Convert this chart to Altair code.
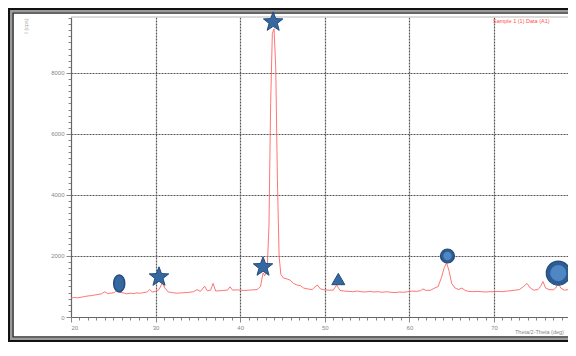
import altair as alt
import pandas as pd

# ---- data ----
two_theta = [20.0, 20.4, 20.8, 21.2, 21.6, 22.0, 22.4, 22.8, 23.2, 23.6, 24.0, 24.3, 24.7, 25.1, 25.5, 25.8,
             26.2, 26.6, 27.0, 27.4, 27.8, 28.2, 28.6, 29.0, 29.3, 29.6, 30.0, 30.4, 30.8, 31.1, 31.5, 32.0,
             32.5, 33.0, 33.5, 34.0, 34.5, 34.9, 35.3, 35.8, 36.1, 36.5, 36.8, 37.1, 37.5, 38.0, 38.5, 38.8,
             39.1, 39.6, 40.0, 40.5, 41.0, 41.5, 42.0, 42.4, 42.7, 42.9, 43.2, 43.4, 43.6, 43.8, 44.0, 44.2,
             44.4, 44.6, 44.8, 45.1, 45.5, 45.9, 46.3, 46.7, 47.1, 47.5, 48.0, 48.5, 49.1, 49.5, 50.0, 50.5,
             51.0, 51.4, 51.8, 52.3, 52.8, 53.3, 53.8, 54.3, 54.8, 55.3, 55.8, 56.3, 56.8, 57.3, 57.8, 58.3,
             58.8, 59.3, 59.8, 60.3, 60.8, 61.3, 61.6, 62.0, 62.5, 63.0, 63.4, 63.8, 64.1, 64.4, 64.7, 65.0,
             65.4, 65.8, 66.2, 66.6, 67.0, 67.5, 68.0, 68.5, 69.0, 69.5, 70.0, 70.5, 71.0, 71.5, 72.0, 72.5,
             73.0, 73.5, 73.9, 74.3, 74.7, 75.2, 75.5, 75.8, 76.1, 76.5, 77.0, 77.3, 77.6, 77.9, 78.3, 78.8,
             79.3, 79.7]
intensity = [620, 640, 630, 650, 670, 690, 700, 720, 740, 760, 830, 770, 780, 800, 900, 810,
             790, 760, 780, 770, 790, 780, 800, 820, 900, 820, 840, 900, 1120, 950, 820, 800,
             780, 790, 800, 810, 830, 900, 840, 1010, 860, 880, 1100, 850, 860, 870, 880, 990,
             880, 890, 880, 870, 880, 890, 900, 1000, 1440, 1350, 1600, 3000, 7000, 9300, 9450, 8200,
             4500, 2000, 1400, 1280, 1250, 1210, 1100, 1050, 1030, 950, 920, 900, 1050, 920, 890, 880,
             880, 1050, 870, 850, 840, 830, 850, 830, 820, 840, 820, 830, 810, 830, 810, 800,
             820, 810, 830, 850, 840, 860, 920, 870, 880, 950, 1000, 1300, 1600, 1780, 1500, 1100,
             950, 900, 950, 870, 840, 830, 840, 830, 820, 830, 830, 840, 830, 850, 860, 880,
             900, 1000, 1100, 950, 880, 900, 1000, 1160, 950, 900, 890, 950, 1100, 950, 880, 900,
             930, 900]

star_x = [30.4, 42.7, 43.9]
star_y = [1310, 1640, 9670]
oval_x = [25.7]
oval_y = [1100]
tri_x = [51.6]
tri_y = [1245]
circle_x = [64.5, 77.6]
circle_y = [2000, 1440]
circle_size = [196, 576]
circle_inner = [70, 260]

x_ticks = list(range(20, 79))
y_ticks = list(range(0, 9801, 200))
legend_text = ["Sample 1 (1)   Data (A1)"]
x_title = ["Theta/2-Theta (deg)"]
y_title = ["I (cps)"]

# ---- layout ----
W, H = 497, 300
xs = alt.Scale(domain=[20, 78.75], nice=False, zero=False)
ys = alt.Scale(domain=[0, 9836], nice=False)

x_axis = alt.Axis(
    values=x_ticks, title=None, labelOverlap=False,
    labelExpr="datum.value % 10 === 0 ? datum.label : ''",
    labelFontSize=6, labelColor="#888", labelPadding=2,
    tickSize={"condition": {"test": "datum.value % 10 === 0", "value": 5}, "value": 3},
    tickColor="#888", domainColor="#666", domainWidth=1.2,
    grid=True, gridColor="#555", gridDash=[2, 1], gridWidth=1.2,
    gridOpacity={"condition": {"test": "datum.value % 10 === 0 && datum.value > 20", "value": 1}, "value": 0},
)
y_axis = alt.Axis(
    values=y_ticks, title=None, labelOverlap=False, format="d",
    labelExpr="datum.value % 2000 === 0 ? datum.label : ''",
    labelFontSize=6, labelColor="#888", labelPadding=2,
    tickSize={"condition": {"test": "datum.value % 2000 === 0", "value": 5}, "value": 3},
    tickColor="#888", domainColor="#666", domainWidth=1.2,
    grid=True, gridColor="#555", gridDash=[2, 1], gridWidth=1.2,
    gridOpacity={"condition": {"test": "datum.value % 2000 === 0 && datum.value > 0", "value": 1}, "value": 0},
)

def X(f="tt"):
    return alt.X(f + ":Q", scale=xs, axis=x_axis)

def Y(f="I"):
    return alt.Y(f + ":Q", scale=ys, axis=y_axis)

one = pd.DataFrame({"k": [0]})

frames = []
for off, col, sw in [(0, "#111", 2), (2, "#9a9a9a", 2), (4, "#333", 1.6)]:
    frames.append(
        alt.Chart(one).mark_rect(fillOpacity=0, stroke=col, strokeWidth=sw).encode(
            x=alt.value(-62 + off), x2=alt.value(800), y=alt.value(-8 + off), y2=alt.value(324 - off)
        )
    )

top_rule = alt.Chart(one).mark_rule(color="#cfcfcf", strokeWidth=1.5).encode(
    x=alt.value(0), x2=alt.value(W), y=alt.value(0)
)

df = pd.DataFrame({"tt": two_theta, "I": intensity})
line = alt.Chart(df).mark_line(color="#ff5c5c", strokeWidth=1, opacity=0.85, clip=True).encode(x=X(), y=Y())

MC = "#3567a0"
MS = "#234d7c"
star_path = ("M0,-1L0.247,-0.34L0.951,-0.309L0.399,0.13L0.588,0.809L0,0.42L-0.588,0.809"
             "L-0.399,0.13L-0.951,-0.309L-0.247,-0.34Z")
oval_path = "M0,-1A0.65,1,0,1,1,0,1A0.65,1,0,1,1,0,-1Z"

stars = alt.Chart(pd.DataFrame({"tt": star_x, "I": star_y})).mark_point(
    shape=star_path, size=420, filled=True, color=MC, stroke=MS, strokeWidth=1, opacity=1
).encode(x=X(), y=Y())
ovals = alt.Chart(pd.DataFrame({"tt": oval_x, "I": oval_y})).mark_point(
    shape=oval_path, size=289, filled=True, color=MC, stroke=MS, strokeWidth=1.5, opacity=1
).encode(x=X(), y=Y())
tris = alt.Chart(pd.DataFrame({"tt": tri_x, "I": tri_y})).mark_point(
    shape="triangle-up", size=170, filled=True, color=MC, stroke=MS, strokeWidth=1, opacity=1
).encode(x=X(), y=Y())
cdf = pd.DataFrame({"tt": circle_x, "I": circle_y, "s": circle_size, "si": circle_inner})
circles = alt.Chart(cdf).mark_point(
    shape="circle", filled=True, color="#2d5c92", stroke=MS, strokeWidth=1.2, opacity=1
).encode(x=X(), y=Y(), size=alt.Size("s:Q", scale=None, legend=None))
circles_in = alt.Chart(cdf).mark_point(
    shape="circle", filled=True, color="#4f86c4", opacity=1
).encode(x=X(), y=Y(), size=alt.Size("si:Q", scale=None, legend=None))

legend = alt.Chart(pd.DataFrame({"t": legend_text})).mark_text(
    color="#ff5050", fontSize=5.5, align="left", baseline="middle"
).encode(x=alt.value(422), y=alt.value(4), text="t:N")
xt = alt.Chart(pd.DataFrame({"t": x_title})).mark_text(
    color="#888", fontSize=5.5, align="left", baseline="middle"
).encode(x=alt.value(444), y=alt.value(315), text="t:N")
yt = alt.Chart(pd.DataFrame({"t": y_title})).mark_text(
    color="#aaa", fontSize=5.5, align="center", baseline="middle", angle=270
).encode(x=alt.value(-45), y=alt.value(9), text="t:N")

chart = alt.layer(
    *frames, top_rule, line, stars, ovals, tris, circles, circles_in, legend, xt, yt
).properties(
    width=W, height=H,
    padding={"left": 63, "top": 9, "right": 0, "bottom": 25},
    autosize=alt.AutoSizeParams(type="none"),
    background="white",
).configure(font="Liberation Sans").configure_view(stroke="transparent")

chart.save("out.html", embed_options={"renderer": "svg", "actions": False})
